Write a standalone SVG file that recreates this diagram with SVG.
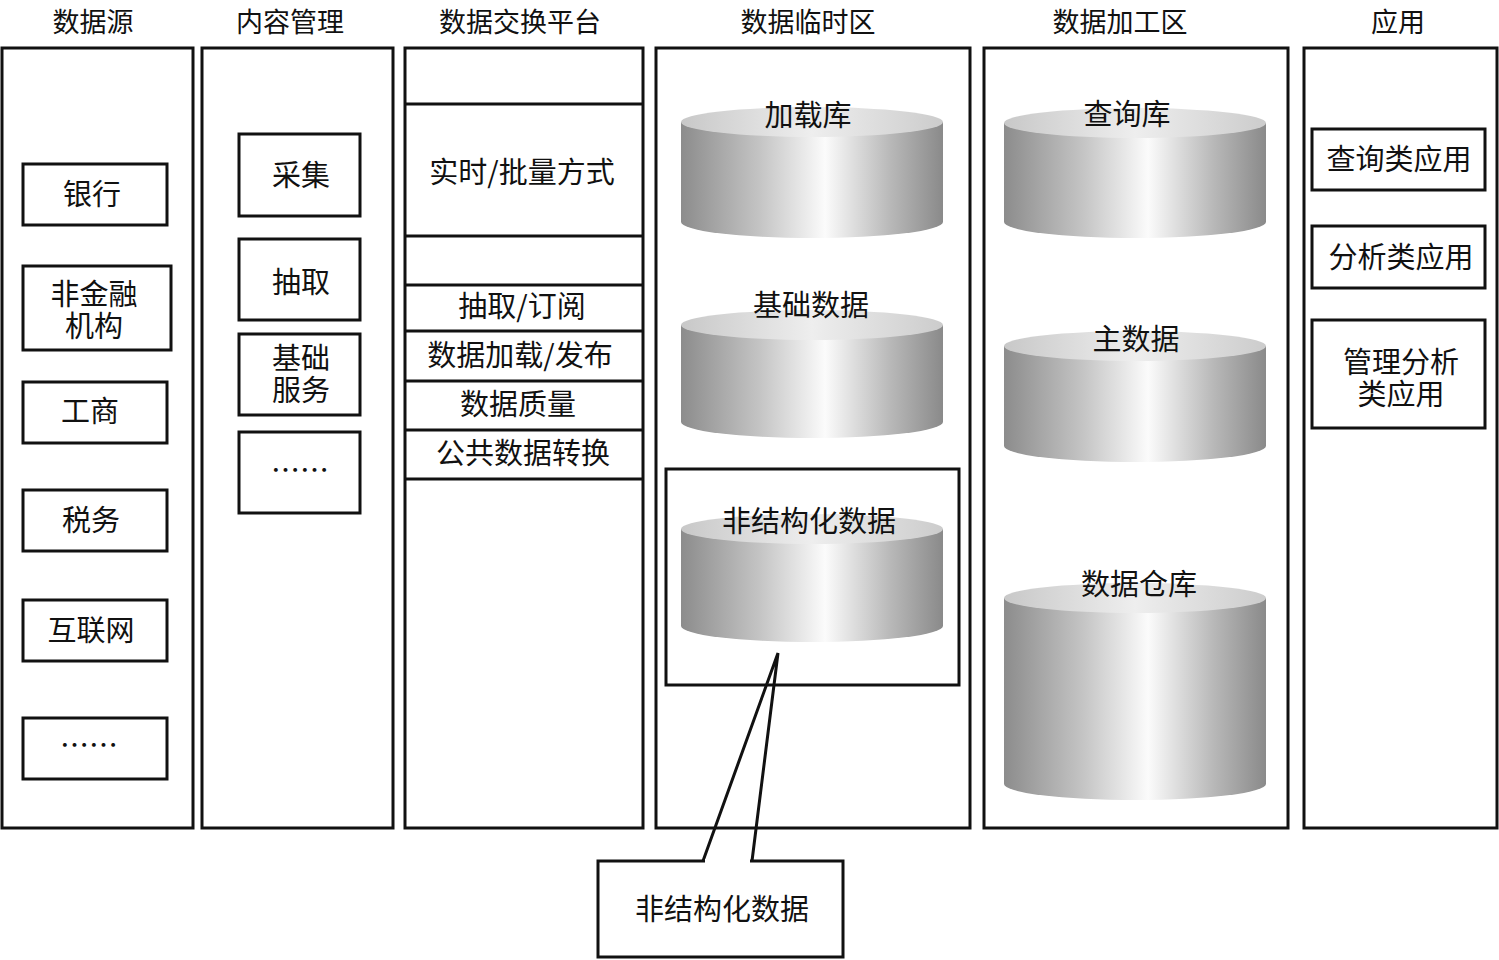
<svg xmlns="http://www.w3.org/2000/svg" width="1499" height="960" viewBox="0 0 1499 960">
<defs>
<linearGradient id="body" x1="0" y1="0" x2="1" y2="0">
<stop offset="0" stop-color="#8c8c8c"/>
<stop offset="0.3" stop-color="#c4c4c4"/>
<stop offset="0.55" stop-color="#fbfbfb"/>
<stop offset="0.8" stop-color="#b8b8b8"/>
<stop offset="1" stop-color="#8a8a8a"/>
</linearGradient>
<linearGradient id="top" x1="0" y1="0" x2="1" y2="0">
<stop offset="0" stop-color="#c8c8c8"/>
<stop offset="0.5" stop-color="#eeeeee"/>
<stop offset="1" stop-color="#cccccc"/>
</linearGradient>
</defs>
<style>
text{font-family:"Noto Sans CJK SC","Noto Sans",sans-serif;font-size:29px;fill:#111;text-anchor:middle;}
.t{font-size:27px;}
.b{fill:#fff;stroke:#111;stroke-width:3;}
.l{fill:none;stroke:#111;stroke-width:3;}
.cb{fill:url(#body);}
.ct{fill:url(#top);}
</style>
<rect width="1499" height="960" fill="#fff"/>

<g id="col-source">
<rect class="b" x="2" y="48" width="191" height="780"/>
<text class="t" x="93" y="32">数据源</text>
<rect class="b" x="23" y="164" width="144" height="61"/><text x="92" y="205">银行</text>
<rect class="b" x="23" y="266" width="148" height="84"/><text x="94" y="305">非金融<tspan x="94" dy="32">机构</tspan></text>
<rect class="b" x="23" y="382" width="144" height="61"/><text x="90" y="422">工商</text>
<rect class="b" x="23" y="490" width="144" height="61"/><text x="91" y="531">税务</text>
<rect class="b" x="23" y="600" width="144" height="61"/><text x="91" y="641">互联网</text>
<rect class="b" x="23" y="718" width="144" height="61"/><text x="89" y="756">……</text>
</g>

<g id="col-content">
<rect class="b" x="202" y="48" width="191" height="780"/>
<text class="t" x="290" y="32">内容管理</text>
<rect class="b" x="239" y="134" width="121" height="82"/><text x="301" y="186">采集</text>
<rect class="b" x="239" y="239" width="121" height="81"/><text x="301" y="293">抽取</text>
<rect class="b" x="239" y="334" width="121" height="81"/><text x="301" y="369">基础<tspan x="301" dy="32">服务</tspan></text>
<rect class="b" x="239" y="432" width="121" height="81"/><text x="300" y="481">……</text>
</g>

<g id="col-exchange">
<rect class="b" x="405" y="48" width="238" height="780"/>
<text class="t" x="520" y="32">数据交换平台</text>
<path class="l" d="M405 104H643M405 236H643M405 285H643M405 331H643M405 381H643M405 430H643M405 479H643"/>
<text x="522" y="183">实时/批量方式</text>
<text x="522" y="317">抽取/订阅</text>
<text x="520" y="366">数据加载/发布</text>
<text x="518" y="415">数据质量</text>
<text x="523" y="464">公共数据转换</text>
</g>

<g id="col-staging">
<rect class="b" x="656" y="48" width="314" height="780"/>
<text class="t" x="808" y="32">数据临时区</text>
<g id="cyl-load">
<path class="cb" d="M681 122V222A131 16 0 0 0 943 222V122Z"/>
<ellipse class="ct" cx="812" cy="122" rx="131" ry="15"/>
<text x="808" y="126">加载库</text>
</g>
<g id="cyl-base">
<path class="cb" d="M681 325V422A131 16 0 0 0 943 422V325Z"/>
<ellipse class="ct" cx="812" cy="325" rx="131" ry="15"/>
<text x="811" y="316">基础数据</text>
</g>
<rect class="l" x="666" y="469" width="293" height="216"/>
<g id="cyl-unstruct">
<path class="cb" d="M681 529V626A131 16 0 0 0 943 626V529Z"/>
<ellipse class="ct" cx="812" cy="529" rx="131" ry="15"/>
<text x="809" y="532">非结构化数据</text>
</g>
</g>

<g id="col-process">
<rect class="b" x="984" y="48" width="304" height="780"/>
<text class="t" x="1120" y="32">数据加工区</text>
<g id="cyl-query">
<path class="cb" d="M1004 123V222A131 16 0 0 0 1266 222V123Z"/>
<ellipse class="ct" cx="1135" cy="123" rx="131" ry="15"/>
<text x="1127" y="125">查询库</text>
</g>
<g id="cyl-master">
<path class="cb" d="M1004 346V446A131 16 0 0 0 1266 446V346Z"/>
<ellipse class="ct" cx="1135" cy="346" rx="131" ry="15"/>
<text x="1136" y="350">主数据</text>
</g>
<g id="cyl-dw">
<path class="cb" d="M1004 598V784A131 16 0 0 0 1266 784V598Z"/>
<ellipse class="ct" cx="1135" cy="598" rx="131" ry="15"/>
<text x="1139" y="595">数据仓库</text>
</g>
</g>

<g id="col-app">
<rect class="b" x="1304" y="48" width="193" height="780"/>
<text class="t" x="1398" y="32">应用</text>
<rect class="b" x="1312" y="129" width="173" height="61"/><text x="1399" y="170">查询类应用</text>
<rect class="b" x="1312" y="226" width="173" height="62"/><text x="1401" y="268">分析类应用</text>
<rect class="b" x="1312" y="320" width="173" height="108"/><text x="1401" y="373">管理分析<tspan x="1401" dy="32">类应用</tspan></text>
</g>

<g id="connectors">
<path class="l" d="M703 861L778 653L752 861"/>
</g>

<g id="callout">
<rect class="b" x="598" y="861" width="245" height="96"/>
<path d="M705 861H750" stroke="#fff" stroke-width="4"/>
<text x="722" y="920">非结构化数据</text>
</g>
</svg>
